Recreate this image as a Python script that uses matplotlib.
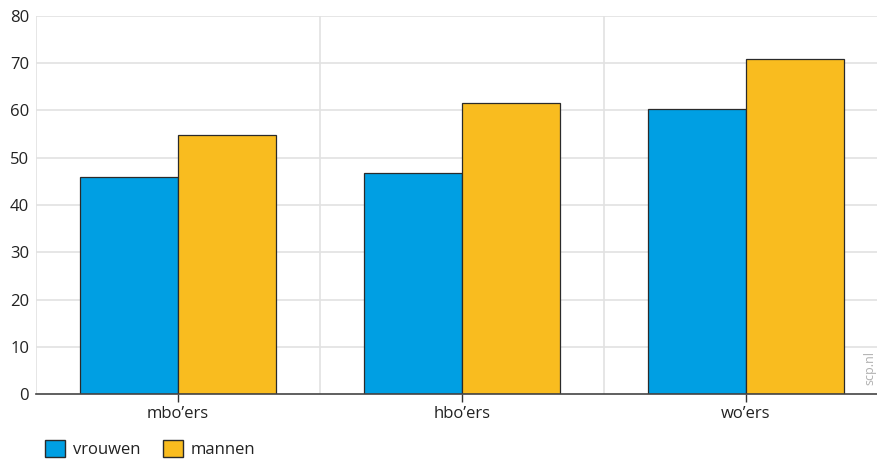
import matplotlib
matplotlib.use("Agg")
import matplotlib.pyplot as plt
import numpy as np
from matplotlib.patches import Patch

categories = ["mbo\u2019ers", "hbo\u2019ers", "wo\u2019ers"]
vrouwen = [46, 46.7, 60.3]
mannen = [54.8, 61.5, 70.8]
yticks = [0, 10, 20, 30, 40, 50, 60, 70, 80]

plt.rcParams['font.family'] = ['Open Sans', 'DejaVu Sans']

fig = plt.figure(figsize=(8.77, 4.63), dpi=100)
ax = fig.add_axes([36/877, 1-394/463, 1-36/877, (394-16)/463])

x = np.arange(len(categories))
w = 0.345
blue = "#009FE3"
yellow = "#F9BC1F"
ax.bar(x - w/2, vrouwen, w, color=blue, edgecolor="#2a2a2a", linewidth=0.9, zorder=3)
ax.bar(x + w/2, mannen, w, color=yellow, edgecolor="#2a2a2a", linewidth=0.9, zorder=3)

ax.set_xlim(-0.5, -0.5 + 841/284)
ax.set_ylim(0, 80)
ax.set_yticks(yticks)
ax.set_yticklabels([str(t) for t in yticks], fontsize=12, color="#222222")
ax.set_xticks(x)
ax.set_xticklabels(categories, fontsize=12, color="#222222")
ax.tick_params(axis='y', length=0, pad=5)
ax.tick_params(axis='x', length=6, width=1, color="#333333", pad=3, direction='out')

for t in yticks[1:]:
    ax.axhline(t, color="#e2e2e2", linewidth=1.2, zorder=1)
for b in [-0.5, 0.5, 1.5]:
    ax.axvline(b, color="#e2e2e2", linewidth=1.2, zorder=1)

for s in ['top', 'right', 'left']:
    ax.spines[s].set_visible(False)
ax.spines['bottom'].set_color("#444444")
ax.spines['bottom'].set_linewidth(1.2)
ax.spines['bottom'].set_zorder(4)

fig.text(870/877, 1-368/463, "scp.nl", rotation=90, fontsize=9, color="#b0b0b0",
         ha='center', va='center')

handles = [Patch(facecolor=blue, edgecolor="#2a2a2a", label="vrouwen"),
           Patch(facecolor=yellow, edgecolor="#2a2a2a", label="mannen")]
fig.legend(handles=handles, loc='lower left', bbox_to_anchor=(30/877, -0.022), ncol=2,
           frameon=False, fontsize=12, handlelength=1.2, handleheight=1.2,
           handletextpad=0.5, columnspacing=1.3, labelcolor="#222222")

fig.savefig("out.png", dpi=100)
